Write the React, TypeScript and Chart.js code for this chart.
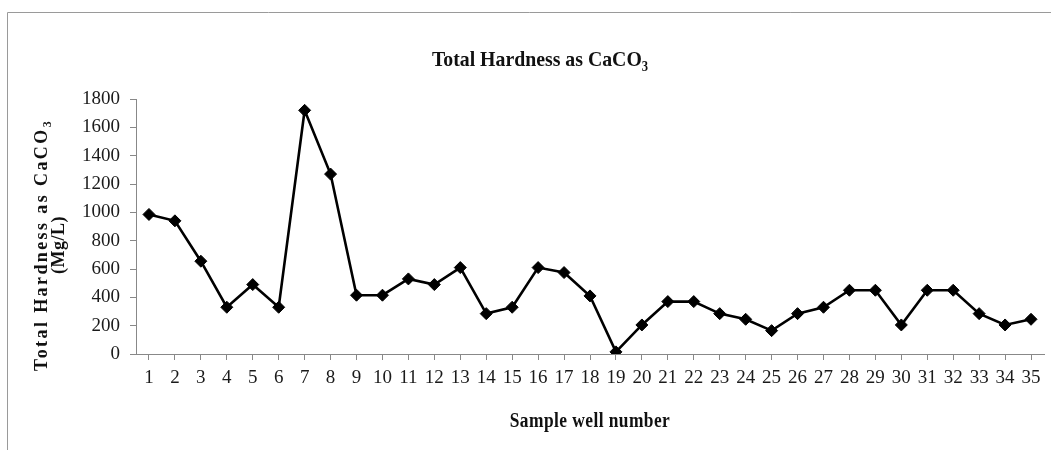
import React, { useEffect, useRef } from "react";
import { Chart, registerables } from "chart.js";

Chart.register(...registerables);

const wellNumbers: string[] = Array.from({ length: 35 }, (_, i) => String(i + 1));
const hardness: number[] = [
  985, 940, 655, 330, 490, 330, 1720, 1270, 415, 415,
  530, 490, 610, 285, 330, 610, 575, 410, 15, 205,
  370, 370, 285, 245, 165, 285, 330, 450, 450, 205,
  450, 450, 285, 205, 245,
];
const yTicks: number[] = [0, 200, 400, 600, 800, 1000, 1200, 1400, 1600, 1800];

const chartTitle = "Total Hardness as CaCO";
const chartTitleSub = "3";
const yTitleLine1 = "Total Hardness as CaCO";
const yTitleSub = "3";
const yTitleLine2 = "(Mg/L)";
const xTitle = "Sample well number";

const FONT = "'Liberation Serif', 'Times New Roman', serif";

function drawCondensed(ctx: any, parts: { text: string; size: number; dy: number }[], cx: number, y: number, sx: number, spacing: string) {
  ctx.save();
  ctx.letterSpacing = spacing;
  const widths = parts.map((p) => {
    ctx.font = `bold ${p.size}px ${FONT}`;
    return ctx.measureText(p.text).width;
  });
  const total = widths.reduce((a, b) => a + b, 0);
  ctx.translate(cx, y);
  ctx.scale(sx, 1);
  let x = -total / 2;
  ctx.textAlign = "left";
  parts.forEach((p, i) => {
    ctx.font = `bold ${p.size}px ${FONT}`;
    ctx.fillText(p.text, x, p.dy);
    x += widths[i];
  });
  ctx.restore();
}

const decorPlugin = {
  id: "decor",
  beforeDraw(chart: any) {
    const ctx = chart.ctx;
    ctx.save();
    ctx.strokeStyle = "#9a9a9a";
    ctx.lineWidth = 1;
    ctx.beginPath();
    ctx.moveTo(7.5, 450);
    ctx.lineTo(7.5, 12.5);
    ctx.lineTo(1051, 12.5);
    ctx.stroke();
    ctx.restore();
  },
  afterDraw(chart: any) {
    const ctx = chart.ctx;
    const area = chart.chartArea;
    ctx.save();
    ctx.fillStyle = "#111";
    ctx.textBaseline = "alphabetic";
    // main title
    drawCondensed(
      ctx,
      [
        { text: chartTitle, size: 22, dy: 0 },
        { text: chartTitleSub, size: 14, dy: 5 },
      ],
      540,
      66,
      0.9,
      "0px"
    );
    // x title
    drawCondensed(ctx, [{ text: xTitle, size: 20, dy: 0 }], (area.left + area.right) / 2, 427, 0.87, "0.5px");

    // y title (rotated)
    ctx.save();
    ctx.translate(47, 245);
    ctx.rotate(-Math.PI / 2);
    drawCondensed(
      ctx,
      [
        { text: yTitleLine1, size: 18, dy: 0 },
        { text: yTitleSub, size: 12, dy: 4 },
      ],
      0,
      0,
      1,
      "2.4px"
    );
    drawCondensed(ctx, [{ text: yTitleLine2, size: 18, dy: 0 }], 0, 17, 1, "0.5px");
    ctx.restore();
    ctx.restore();
  },
};

export default function App() {
  const canvasRef = useRef<HTMLCanvasElement | null>(null);

  useEffect(() => {
    document.body.style.margin = "0";
    document.body.style.background = "#ffffff";
    const canvas = canvasRef.current;
    if (!canvas) return;
    const chart = new Chart(canvas, {
      type: "line",
      data: {
        labels: wellNumbers,
        datasets: [
          {
            data: hardness,
            borderColor: "#000000",
            backgroundColor: "#000000",
            borderWidth: 2.6,
            pointStyle: "rectRot",
            pointRadius: 6,
            pointBorderWidth: 1,
            tension: 0,
            fill: false,
          },
        ],
      },
      options: {
        responsive: false,
        animation: false,
        layout: { padding: { left: 0, top: 99, right: 5, bottom: 0 } },
        plugins: {
          legend: { display: false },
          title: { display: false },
          tooltip: { enabled: false },
        },
        scales: {
          x: {
            type: "category",
            offset: true,
            grid: {
              display: true,
              drawOnChartArea: false,
              drawTicks: true,
              tickLength: 6,
              offset: false,
              color: "#888888",
            },
            border: { display: true, color: "#888888", width: 1 },
            ticks: {
              autoSkip: false,
              maxRotation: 0,
              minRotation: 0,
              padding: 7,
              color: "#1a1a1a",
              font: { family: FONT, size: 19 },
            },
            afterFit(scale: any) {
              scale.height = 96;
            },
          },
          y: {
            min: 0,
            max: 1800,
            afterBuildTicks(scale: any) {
              scale.ticks = yTicks.map((v) => ({ value: v }));
            },
            grid: {
              display: true,
              drawOnChartArea: false,
              drawTicks: true,
              tickLength: 6,
              color: "#888888",
            },
            border: { display: true, color: "#888888", width: 1 },
            ticks: {
              padding: 10,
              color: "#1a1a1a",
              font: { family: FONT, size: 19 },
              callback: (v: any) => String(v),
            },
            afterFit(scale: any) {
              scale.width = 136;
            },
          },
        },
      },
      plugins: [decorPlugin],
    });
    return () => chart.destroy();
  }, []);

  return (
    <div style={{ width: 1051, height: 450, background: "#fff" }}>
      <canvas ref={canvasRef} width={1051} height={450} style={{ display: "block" }} />
    </div>
  );
}
